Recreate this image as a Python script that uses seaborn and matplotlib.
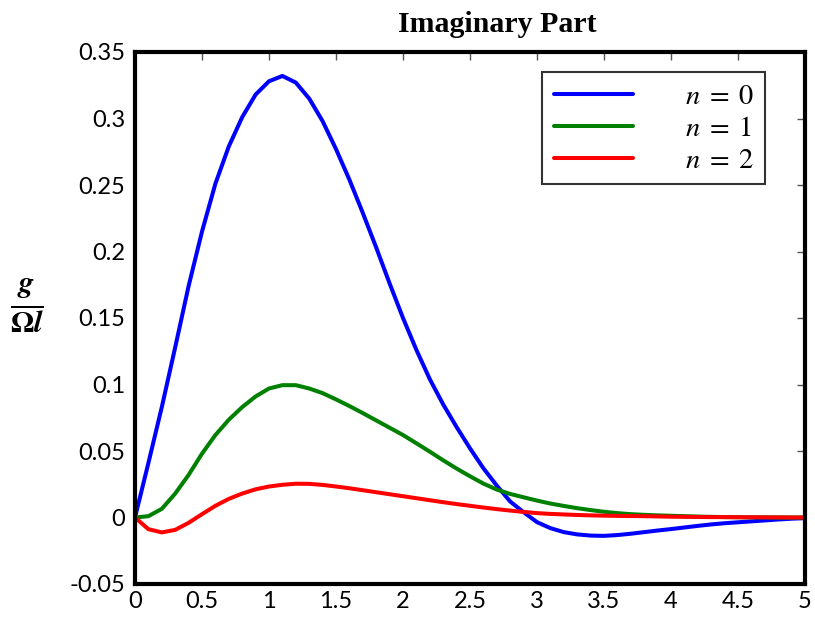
import numpy as np
import pandas as pd
import matplotlib
matplotlib.use("Agg")
import matplotlib.pyplot as plt
import seaborn as sns

x_vals = [round(0.1 * i, 1) for i in range(51)]

n0_vals = [0.0, 0.041, 0.083, 0.128, 0.174, 0.215, 0.251, 0.279, 0.301, 0.318,
           0.328, 0.332, 0.327, 0.315, 0.298, 0.277, 0.254, 0.229, 0.203, 0.176,
           0.150, 0.126, 0.104, 0.085, 0.068, 0.052, 0.037, 0.024, 0.012, 0.004,
           -0.0035, -0.008, -0.011, -0.0127, -0.0136, -0.0138, -0.0132, -0.0122, -0.011, -0.0098,
           -0.0087, -0.0075, -0.0063, -0.0052, -0.0043, -0.0036, -0.0029, -0.0022, -0.0015, -0.0009,
           -0.0005]

n1_vals = [0.0, 0.001, 0.0065, 0.018, 0.032, 0.048, 0.062, 0.0735, 0.083, 0.091,
           0.097, 0.0995, 0.0995, 0.097, 0.0935, 0.0888, 0.0838, 0.0785, 0.073, 0.0675,
           0.062, 0.0558, 0.0495, 0.043, 0.0368, 0.031, 0.0255, 0.021, 0.0177, 0.0152,
           0.0127, 0.0105, 0.0087, 0.007, 0.0056, 0.0043, 0.0033, 0.0025, 0.002, 0.0016,
           0.0013, 0.001, 0.0007, 0.0005, 0.0003, 0.0002, 0.0001, 0.0001, 0.0, 0.0,
           0.0]

n2_vals = [0.0, -0.0088, -0.0112, -0.0093, -0.004, 0.0025, 0.0088, 0.014, 0.018, 0.0212,
           0.0233, 0.0246, 0.0254, 0.0253, 0.0245, 0.0233, 0.022, 0.0205, 0.019, 0.0175,
           0.016, 0.0145, 0.013, 0.0115, 0.0101, 0.0088, 0.0075, 0.0063, 0.0052, 0.0042,
           0.0033, 0.0027, 0.0023, 0.0019, 0.0016, 0.0014, 0.0012, 0.0011, 0.001, 0.0008,
           0.0006, 0.0005, 0.0004, 0.0003, 0.0003, 0.0002, 0.0002, 0.0001, 0.0001, 0.0,
           0.0]

series_labels = [r"$n\;=\;0$", r"$n\;=\;1$", r"$n\;=\;2$"]
series_colors = ["#0000ff", "#008000", "#ff0000"]

x_ticks = [0, 0.5, 1, 1.5, 2, 2.5, 3, 3.5, 4, 4.5, 5]
x_ticklabels = ["0", "0.5", "1", "1.5", "2", "2.5", "3", "3.5", "4", "4.5", "5"]
y_ticks = [-0.05, 0, 0.05, 0.1, 0.15, 0.2, 0.25, 0.3, 0.35]
y_ticklabels = ["-0.05", "0", "0.05", "0.1", "0.15", "0.2", "0.25", "0.3", "0.35"]

title_text = "Imaginary Part"
ylabel_text = r"$\frac{\boldsymbol{g}}{\boldsymbol{\Omega l}}$"

df = pd.concat([
    pd.DataFrame({"x": x_vals, "y": vals, "series": lab})
    for vals, lab in zip([n0_vals, n1_vals, n2_vals], series_labels)
], ignore_index=True)

sns.set_style("white")
plt.rcParams["font.family"] = ["Lato", "DejaVu Sans"]
plt.rcParams["mathtext.fontset"] = "stix"
plt.rcParams["text.color"] = "black"

fig = plt.figure(figsize=(8.15, 6.18), dpi=100)
ax = fig.add_axes([135 / 815, 1 - 584 / 618, 670 / 815, 532 / 618])

sns.lineplot(data=df, x="x", y="y", hue="series", palette=series_colors,
             hue_order=series_labels, linewidth=2.9, ax=ax, sort=False,
             estimator=None)

ax.set_xlim(0, 5)
ax.set_ylim(-0.05, 0.35)
ax.set_xticks(x_ticks)
ax.set_xticklabels(x_ticklabels)
ax.set_yticks(y_ticks)
ax.set_yticklabels(y_ticklabels)
ax.set_xlabel("")
ax.set_ylabel("")
ax.tick_params(axis="both", direction="in", length=6, width=1, color="#555555",
               labelsize=17, labelcolor="black", top=True, right=True, pad=5)
ax.tick_params(axis="y", pad=7)
for s in ax.spines.values():
    s.set_visible(True)
    s.set_color("black")
    s.set_linewidth(3)

fig.text(497 / 815, 1 - 24 / 618, title_text, ha="center", va="center",
         fontsize=21.5, fontweight="bold", family="Liberation Serif", color="black")
fig.text(27 / 815, 1 - 306 / 618, ylabel_text, ha="center", va="center",
         fontsize=31, color="black")

leg = ax.legend(loc="upper right", bbox_to_anchor=(765 / 815, 1 - 72 / 618),
                bbox_transform=fig.transFigure, borderaxespad=0, fontsize=20.5,
                handlelength=2.8, handletextpad=1.8, labelspacing=0.2,
                borderpad=0.4, fancybox=False, frameon=True, edgecolor="black")
leg.get_frame().set_linewidth(1.5)
for t in leg.get_texts():
    t.set_color("black")

fig.savefig("out.png", dpi=100)
